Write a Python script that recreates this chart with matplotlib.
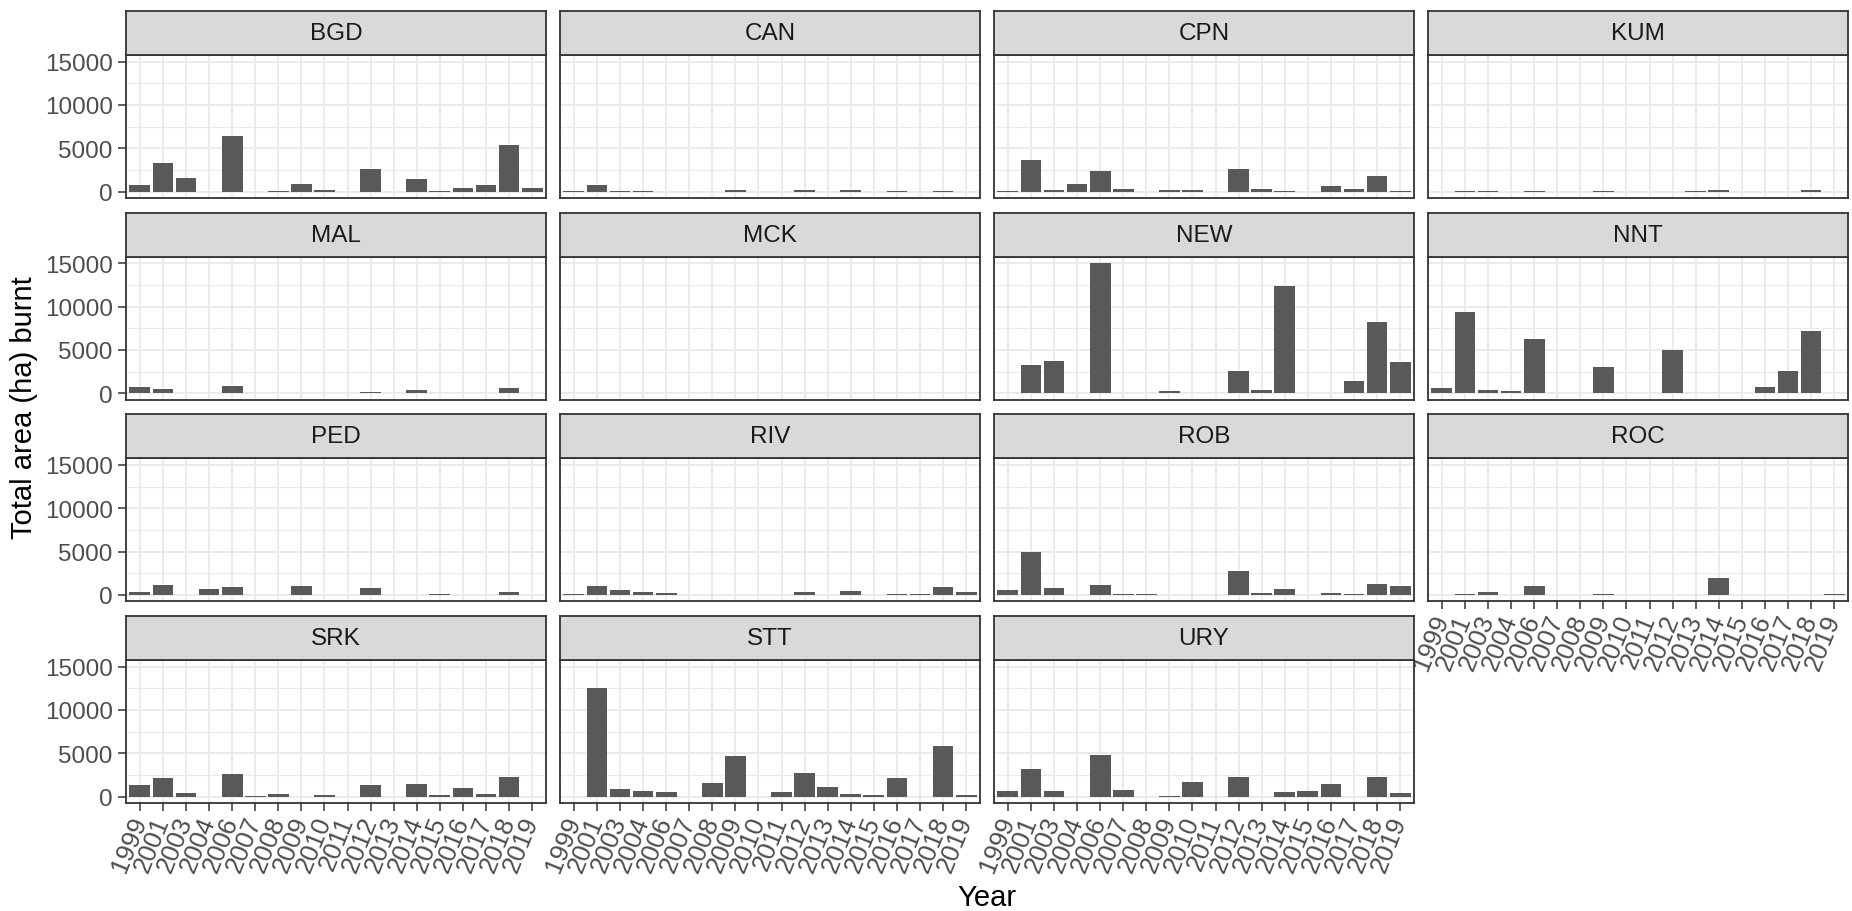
import matplotlib
matplotlib.use("Agg")
import matplotlib.pyplot as plt

# Years on the x axis (discrete, some years missing)
years = ["1999", "2001", "2003", "2004", "2006", "2007", "2008", "2009", "2010",
         "2011", "2012", "2013", "2014", "2015", "2016", "2017", "2018", "2019"]

# Total area burnt (ha) per site, same order as years
bgd = [700, 3300, 1600, 0, 6400, 0, 50, 900, 150, 0, 2600, 0, 1500, 50, 450, 750, 5400, 400]
can = [30, 750, 40, 40, 0, 0, 0, 200, 0, 0, 150, 0, 150, 0, 50, 0, 100, 0]
cpn = [30, 3650, 150, 900, 2350, 300, 0, 200, 200, 0, 2600, 300, 60, 0, 600, 250, 1750, 50]
kum = [0, 40, 40, 0, 40, 0, 0, 40, 0, 0, 0, 40, 200, 0, 0, 0, 150, 0]
mal = [700, 500, 0, 0, 800, 0, 0, 0, 0, 0, 100, 0, 400, 0, 0, 0, 550, 0]
mck = [0, 0, 0, 0, 0, 0, 0, 0, 0, 0, 0, 0, 0, 0, 0, 0, 0, 50]
new = [60, 3300, 3700, 0, 15000, 0, 60, 200, 0, 0, 2600, 350, 12400, 0, 0, 1400, 8200, 3600]
nnt = [550, 9400, 400, 250, 6200, 0, 60, 3050, 0, 0, 5000, 60, 0, 60, 700, 2600, 7200, 50]
ped = [300, 1150, 0, 700, 950, 0, 0, 1050, 0, 0, 800, 0, 0, 60, 0, 0, 350, 0]
riv = [80, 1000, 550, 350, 250, 0, 0, 0, 0, 0, 350, 0, 400, 0, 60, 100, 950, 350]
rob = [600, 4950, 850, 0, 1100, 60, 150, 0, 0, 0, 2800, 200, 650, 0, 250, 60, 1250, 1000]
roc = [0, 50, 300, 0, 1050, 0, 0, 100, 0, 0, 0, 0, 1900, 0, 0, 0, 0, 100]
srk = [1350, 2200, 450, 0, 2600, 120, 250, 0, 200, 0, 1350, 0, 1450, 200, 950, 300, 2250, 0]
stt = [0, 12500, 900, 700, 500, 0, 1550, 4700, 0, 500, 2750, 1050, 350, 150, 2100, 0, 5850, 230]
ury = [700, 3150, 650, 0, 4750, 800, 0, 50, 1650, 0, 2250, 0, 500, 650, 1400, 0, 2300, 450]

sites = ["BGD", "CAN", "CPN", "KUM", "MAL", "MCK", "NEW", "NNT",
         "PED", "RIV", "ROB", "ROC", "SRK", "STT", "URY"]
site_values = [bgd, can, cpn, kum, mal, mck, new, nnt, ped, riv, rob, roc, srk, stt, ury]

y_ticks = [0, 5000, 10000, 15000]
y_minor = [2500, 7500, 12500]

plt.rcParams['font.family'] = ['Liberation Sans', 'DejaVu Sans']

W, H = 1852, 912
fig = plt.figure(figsize=(W / 100, H / 100), dpi=100)

# layout in pixels (ggplot facet_wrap look)
left0, col_step, panel_w = 126, 434, 420
top0, row_step = 12, 201.7
strip_h, panel_h = 44, 143

bar_col = "#595959"
grid_col = "#EBEBEB"
edge_col = "#333333"
n_cols = 4
n_rows = 4

x = list(range(1, len(years) + 1))

for i, (name, vals) in enumerate(zip(sites, site_values)):
    r, c = divmod(i, n_cols)
    x0 = left0 + c * col_step
    strip_top = top0 + r * row_step
    p_top = strip_top + strip_h
    p_bot = p_top + panel_h

    ax = fig.add_axes([x0 / W, 1 - p_bot / H, panel_w / W, panel_h / H])
    ax.bar(x, vals, width=0.9, color=bar_col, zorder=3)
    ax.set_xlim(0.4, len(years) + 0.6)
    ax.set_ylim(-750, 15750)

    # grid
    for yv in y_ticks:
        ax.axhline(yv, color=grid_col, lw=1.4, zorder=1)
    for yv in y_minor:
        ax.axhline(yv, color=grid_col, lw=0.8, zorder=1)
    for xv in x:
        ax.axvline(xv, color=grid_col, lw=1.4, zorder=1)

    for sp in ax.spines.values():
        sp.set_color(edge_col)
        sp.set_linewidth(1.3)
        sp.set_zorder(5)

    ax.set_yticks(y_ticks)
    ax.set_xticks(x)
    ax.tick_params(colors=edge_col, length=6, width=1.1, labelcolor="#4D4D4D", labelsize=17.5)

    if c == 0:
        ax.set_yticklabels([str(v) for v in y_ticks])
    else:
        ax.tick_params(axis="y", left=False, labelleft=False)

    # x axis shown only where no panel sits below
    if r == n_rows - 1 or i + n_cols >= len(sites):
        ax.set_xticklabels(years, rotation=68, ha="right", va="center",
                           rotation_mode="anchor", fontsize=18.5)
        ax.tick_params(axis="x", pad=4)
    else:
        ax.tick_params(axis="x", bottom=False, labelbottom=False)

    # strip
    sax = fig.add_axes([x0 / W, 1 - p_top / H, panel_w / W, strip_h / H])
    sax.set_facecolor("#D9D9D9")
    sax.set_xticks([])
    sax.set_yticks([])
    for sp in sax.spines.values():
        sp.set_color(edge_col)
        sp.set_linewidth(1.3)
    sax.text(0.5, 0.5, name, ha="center", va="center", fontsize=17.5,
             color="#1A1A1A", transform=sax.transAxes)

fig.text((left0 + 3 * col_step + panel_w + left0) / 2 / W, 1 - 898 / H, "Year",
         ha="center", va="center", fontsize=21, color="black")
fig.text(24 / W, 1 - 408 / H, "Total area (ha) burnt", ha="center", va="center",
         rotation=90, fontsize=21, color="black")

fig.savefig("out.png", dpi=100, facecolor="white")
